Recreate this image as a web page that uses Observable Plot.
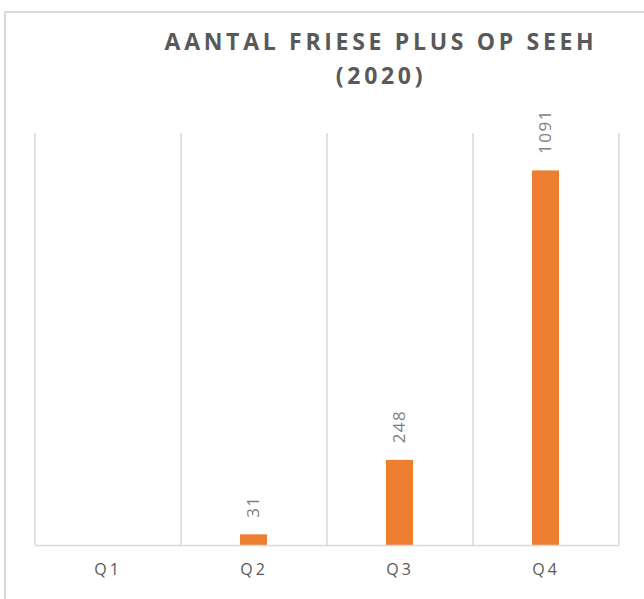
<!DOCTYPE html>
<html>
<head>
<meta charset="utf-8">
<script src="https://cdn.jsdelivr.net/npm/d3@7"></script>
<script src="https://cdn.jsdelivr.net/npm/@observablehq/plot@0.6"></script>
<style>
  html, body { margin: 0; padding: 0; background: #fff; }
  #wrap { position: relative; width: 644px; height: 599px; overflow: hidden; font-family: "Open Sans", sans-serif; }
  #frame { position: absolute; left: 4px; top: 11px; width: 700px; height: 700px; border-left: 2px solid #d9d9d9; border-top: 2px solid #d9d9d9; }
  #title { position: absolute; left: 381px; top: 24px; transform: translateX(-50%); text-align: center; white-space: nowrap;
           font-size: 23px; font-weight: 700; letter-spacing: 3.7px; line-height: 34px; color: #595959; }
  #chart { position: absolute; left: 0; top: 0; }
  #chart g[aria-label="x-axis tick label"] text { letter-spacing: 3px; }
  #chart g.vlabels text { letter-spacing: 1.5px; }
</style>
</head>
<body>
<div id="wrap">
  <div id="frame"></div>
  <div id="chart"></div>
  <div id="title">AANTAL FRIESE PLUS OP SEEH<br>(2020)</div>
</div>
<script>
const categories = ["Q1", "Q2", "Q3", "Q4"];
const values = [null, 31, 248, 1091];
const yDomain = [0, 1200];

const data = categories.map((q, i) => ({q, v: values[i]}));
const withValues = data.filter(d => d.v != null);

const step = (644 - 35 - 25) / categories.length;

const chart = Plot.plot({
  width: 644,
  height: 599,
  marginLeft: 35,
  marginRight: 25,
  marginTop: 133,
  marginBottom: 54,
  style: {fontFamily: "Open Sans, sans-serif", background: "transparent"},
  x: {domain: categories, paddingInner: 0.815, paddingOuter: 0.4075, label: null},
  y: {domain: yDomain, axis: null},
  marks: [
    Plot.ruleX(categories, {x: d => d, dx: -step / 2, stroke: "#d9d9d9", strokeWidth: 1.5}),
    Plot.ruleX(categories.slice(-1), {x: d => d, dx: step / 2, stroke: "#d9d9d9", strokeWidth: 1.5}),
    Plot.barY(withValues, {x: "q", y: "v", fill: "#ED7D31"}),
    Plot.ruleY([0], {stroke: "#d9d9d9", strokeWidth: 1.5}),
    Plot.text(withValues, {x: "q", y: "v", text: d => String(d.v), rotate: -90, textAnchor: "start", dy: -17,
      fill: "#7f7f7f", fontSize: 17, className: "vlabels"}),
    Plot.axisX({tickSize: 0, tickPadding: 18.5, fontSize: 16, color: "#595959", label: null})
  ]
});
document.getElementById("chart").appendChild(chart);
</script>
</body>
</html>
